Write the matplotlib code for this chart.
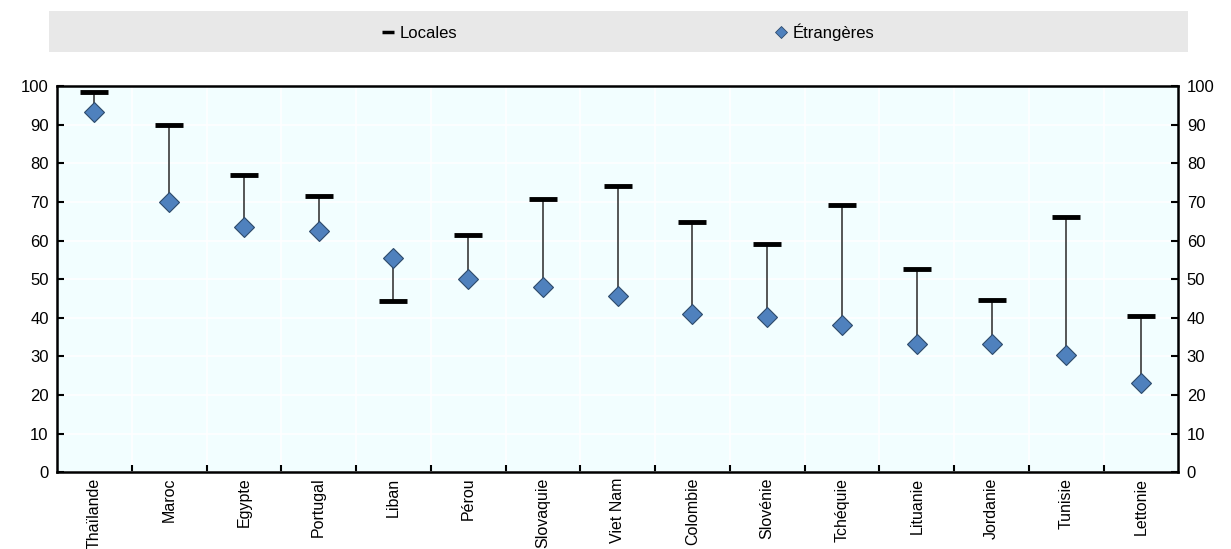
import numpy as np
from matplotlib import pyplot as plt
from matplotlib.patches import Rectangle
from matplotlib.lines import Line2D

plt.rc('font', family=['Liberation Sans Narrow', 'Liberation Sans', 'DejaVu Sans'], size=12)

pays = ['Thaïlande', 'Maroc', 'Egypte', 'Portugal', 'Liban', 'Pérou', 'Slovaquie', 'Viet Nam',
        'Colombie', 'Slovénie', 'Tchéquie', 'Lituanie', 'Jordanie', 'Tunisie', 'Lettonie']
locales = [98.5, 90, 77, 71.5, 44.3, 61.5, 70.7, 74.1, 64.7, 59.1, 69.2, 52.7, 44.7, 66.1, 40.5]
etrangeres = [93.2, 70, 63.5, 62.5, 55.6, 50, 48, 45.6, 41, 40.3, 38, 33.3, 33.1, 30.3, 23.2]
yticks = [0, 10, 20, 30, 40, 50, 60, 70, 80, 90, 100]

fig = plt.figure(figsize=(12.31, 5.49), dpi=100)
ax = fig.add_axes([0.0463, 0.14, 0.911, 0.703])
ax.set_facecolor('#F2FEFF')

x = np.arange(len(pays))
lo = np.minimum(locales, etrangeres)
hi = np.maximum(locales, etrangeres)
ax.vlines(x, lo, hi, color='#3a3a3a', linewidth=1.2, zorder=3)
ax.plot(x, locales, linestyle='none', marker='_', markersize=20, markeredgewidth=3.5,
        color='black', zorder=4)
ax.plot(x, etrangeres, linestyle='none', marker='D', markersize=10, markerfacecolor='#4F81BD',
        markeredgecolor='#2d4a6b', markeredgewidth=0.8, zorder=5)

ax.set_xlim(-0.5, len(pays) - 0.5)
ax.set_ylim(0, 100)
ax.set_xticks(x)
ax.set_xticklabels(pays, rotation=90, fontsize=11.5)
ax.set_xticks(x[:-1] + 0.5, minor=True)
ax.set_yticks(yticks)
ax.tick_params(axis='x', which='major', length=0, pad=4)
ax.tick_params(axis='x', which='minor', direction='in', length=5, width=1.5)
ax.tick_params(axis='y', direction='in', length=5, width=1.5, right=True, labelright=True, pad=6)
ax.grid(axis='x', which='minor', color='white', linewidth=1.2)
ax.grid(axis='y', which='major', color='white', linewidth=1.2)
ax.set_axisbelow(True)
for s in ax.spines.values():
	s.set_linewidth(1.8)

# legend band
fig.patches.append(Rectangle((0.04, 0.905), 0.925, 0.075, transform=fig.transFigure,
                             facecolor='#E8E8E8', edgecolor='none', zorder=0))
h1 = Line2D([], [], linestyle='none', marker='_', markersize=8, markeredgewidth=2.5, color='black')
h2 = Line2D([], [], linestyle='none', marker='D', markersize=6, markerfacecolor='#4F81BD',
            markeredgecolor='#2d4a6b', markeredgewidth=0.6)
fig.legend([h1, h2], ['Locales', 'Étrangères'], loc='center', bbox_to_anchor=(0.51, 0.942),
           ncol=2, frameon=False, handlelength=0.8, handletextpad=0.3, columnspacing=19, fontsize=12)

plt.savefig('out.png', dpi=100)
